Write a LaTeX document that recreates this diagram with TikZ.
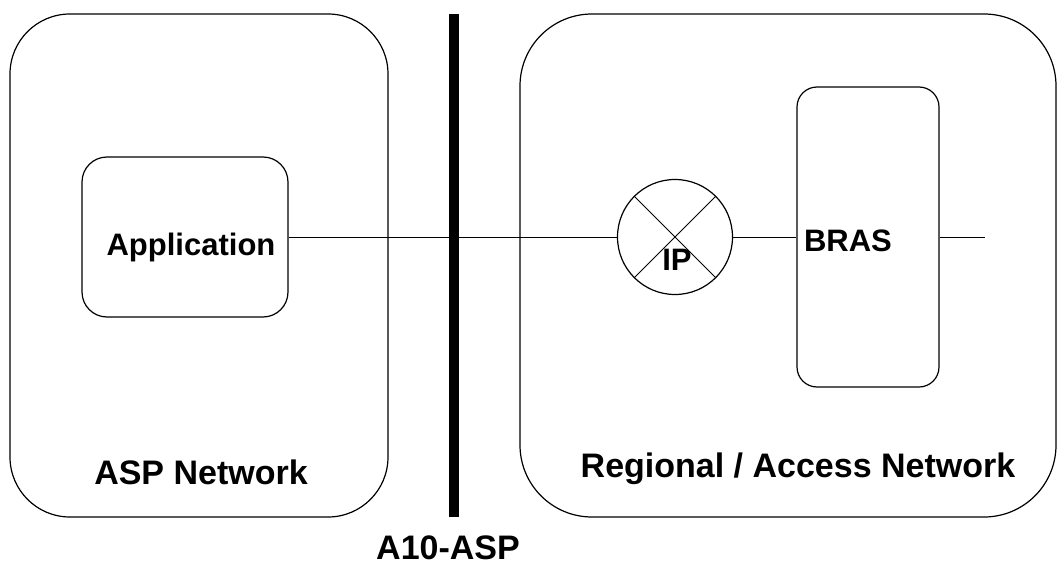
\documentclass[tikz,border=0pt]{standalone}
\usepackage{fontspec}
\setmainfont{Liberation Sans}
\begin{document}
\begin{tikzpicture}[x=1pt,y=-1pt,
  box/.style={draw,line width=1.2pt,inner sep=0pt},
  conn/.style={line width=1pt},
  inlbl/.style={font=\fontsize{31}{31}\selectfont\bfseries,anchor=base,inner sep=0pt},
  outlbl/.style={font=\fontsize{34}{34}\selectfont\bfseries,anchor=base,inner sep=0pt}]
\useasboundingbox (0,0) rectangle (1057,567);
% outer domains
\node[box,rounded corners=60pt,minimum width=378pt,minimum height=503pt] (asp) at (199,265.5) {};
\node[box,rounded corners=72pt,minimum width=536pt,minimum height=503pt] (reg) at (788,265.5) {};
% reference point line
\coordinate (rtop) at (454,14);
\coordinate (rbot) at (454,517);
\draw[line width=9.5pt] (rtop) -- (rbot);
% inner elements
\node[box,rounded corners=25pt,minimum width=206pt,minimum height=160pt] (app) at (185,237) {};
\node[box,circle,minimum size=115pt] (ip) at (675,237) {};
\draw[conn] (ip.north west) -- (ip.south east);
\draw[conn] (ip.north east) -- (ip.south west);
\node[box,rounded corners=20pt,minimum width=142pt,minimum height=300pt] (bras) at (868,237) {};
\coordinate (out) at (985,237);
% connectors
\draw[conn] (app.east) -- (ip.west);
\draw[conn] (ip.east) -- (bras.west);
\draw[conn] (bras.east) -- (out);
% labels
\node[inlbl] (applbl) at (191,255) {Application};
\node[inlbl] (iplbl) at (677,270) {IP};
\node[inlbl] (braslbl) at (848,251) {BRAS};
\node[outlbl] (asplbl) at (201,484) {ASP Network};
\node[outlbl] (reglbl) at (798,477) {Regional / Access Network};
\node[outlbl] (reflbl) at (448,559) {A10-ASP};
\end{tikzpicture}
\end{document}
